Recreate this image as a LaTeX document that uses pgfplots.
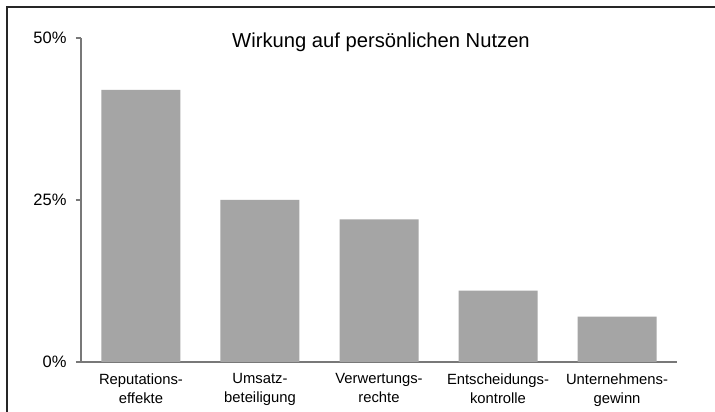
\documentclass[border=0pt]{standalone}
\usepackage{pgfplots}
\pgfplotsset{compat=1.18}
\usepackage{fontspec}
\setmainfont{Liberation Sans}
\definecolor{bargray}{RGB}{165,165,165}
\definecolor{axgray}{RGB}{120,120,120}
\begin{document}
\begin{tikzpicture}
\useasboundingbox (0pt,0pt) rectangle (715pt,412pt);
\fill[white] (0pt,0pt) rectangle (715pt,412pt);
\begin{axis}[
  at={(81pt,50pt)}, anchor=south west,
  scale only axis, width=596pt, height=324pt,
  xmin=-0.504, xmax=4.504, ymin=0, ymax=50,
  axis lines*=left,
  axis line style={axgray, line width=1.6pt},
  ytick={0,25,50}, yticklabels={0\%,25\%,50\%},
  xtick={0,1,2,3,4},
  xticklabels={{Reputations-\\effekte},{Umsatz-\\beteiligung},{Verwertungs-\\rechte},{Entscheidungs-\\kontrolle},{Unternehmens-\\gewinn}},
  x tick label style={align=center, font=\fontsize{14.8}{19}\selectfont, yshift=-3pt},
  y tick label style={font=\fontsize{16.5}{19}\selectfont, xshift=-6pt},
  major x tick style={draw=none},
  major y tick style={axgray, line width=1.2pt},
  tick align=outside, major tick length=5pt,
  ybar, bar width=79pt,
  clip=false,
]
\addplot[fill=bargray, draw=none, bar shift=0pt] coordinates {(0,42) (1,25) (2,22) (3,11) (4,7)};
\end{axis}
\node[font=\fontsize{20.2}{24}\selectfont] at (381pt,370pt) {Wirkung auf persönlichen Nutzen};
\draw[line width=1.3pt, black!85] (7pt,0pt) -- (7pt,405pt) -- (715pt,405pt);
\end{tikzpicture}
\end{document}
